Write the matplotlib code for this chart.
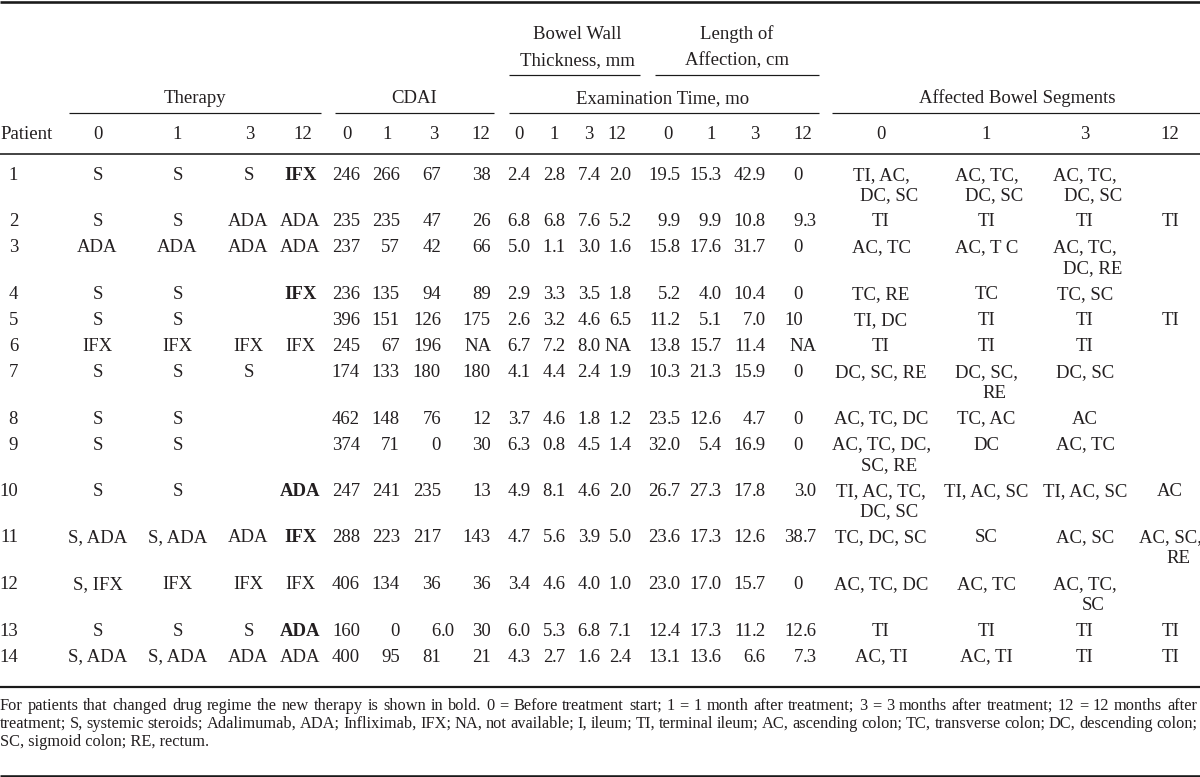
import matplotlib
matplotlib.use('Agg')
import matplotlib.pyplot as plt

# ---------------- data ----------------
patients = [str(i) for i in range(1, 15)]
therapy_0 = ["S", "S", "ADA", "S", "S", "IFX", "S", "S", "S", "S", "S, ADA", "S, IFX", "S", "S, ADA"]
therapy_1 = ["S", "S", "ADA", "S", "S", "IFX", "S", "S", "S", "S", "S, ADA", "IFX", "S", "S, ADA"]
therapy_3 = ["S", "ADA", "ADA", "", "", "IFX", "S", "", "", "", "ADA", "IFX", "S", "ADA"]
therapy_12 = ["IFX", "ADA", "ADA", "IFX", "", "IFX", "", "", "", "ADA", "IFX", "IFX", "ADA", "ADA"]
therapy_12_new = [True, False, False, True, False, False, False, False, False, True, True, False, True, False]

cdai_0 = ["246", "235", "237", "236", "396", "245", "174", "462", "374", "247", "288", "406", "160", "400"]
cdai_1 = ["266", "235", "57", "135", "151", "67", "133", "148", "71", "241", "223", "134", "0", "95"]
cdai_3 = ["67", "47", "42", "94", "126", "196", "180", "76", "0", "235", "217", "36", "6.0", "81"]
cdai_12 = ["38", "26", "66", "89", "175", "NA", "180", "12", "30", "13", "143", "36", "30", "21"]

bwt_0 = ["2.4", "6.8", "5.0", "2.9", "2.6", "6.7", "4.1", "3.7", "6.3", "4.9", "4.7", "3.4", "6.0", "4.3"]
bwt_1 = ["2.8", "6.8", "1.1", "3.3", "3.2", "7.2", "4.4", "4.6", "0.8", "8.1", "5.6", "4.6", "5.3", "2.7"]
bwt_3 = ["7.4", "7.6", "3.0", "3.5", "4.6", "8.0", "2.4", "1.8", "4.5", "4.6", "3.9", "4.0", "6.8", "1.6"]
bwt_12 = ["2.0", "5.2", "1.6", "1.8", "6.5", "NA", "1.9", "1.2", "1.4", "2.0", "5.0", "1.0", "7.1", "2.4"]

loa_0 = ["19.5", "9.9", "15.8", "5.2", "11.2", "13.8", "10.3", "23.5", "32.0", "26.7", "23.6", "23.0", "12.4", "13.1"]
loa_1 = ["15.3", "9.9", "17.6", "4.0", "5.1", "15.7", "21.3", "12.6", "5.4", "27.3", "17.3", "17.0", "17.3", "13.6"]
loa_3 = ["42.9", "10.8", "31.7", "10.4", "7.0", "11.4", "15.9", "4.7", "16.9", "17.8", "12.6", "15.7", "11.2", "6.6"]
loa_12 = ["0", "9.3", "0", "0", "10", "NA", "0", "0", "0", "3.0", "38.7", "0", "12.6", "7.3"]

seg_0 = ["TI, AC,\nDC, SC", "TI", "AC, TC", "TC, RE", "TI, DC", "TI", "DC, SC, RE", "AC, TC, DC",
         "AC, TC, DC,\nSC, RE", "TI, AC, TC,\nDC, SC", "TC, DC, SC", "AC, TC, DC", "TI", "AC, TI"]
seg_1 = ["AC, TC,\nDC, SC", "TI", "AC, T C", "TC", "TI", "TI", "DC, SC,\nRE", "TC, AC", "DC",
         "TI, AC, SC", "SC", "AC, TC", "TI", "AC, TI"]
seg_3 = ["AC, TC,\nDC, SC", "TI", "AC, TC,\nDC, RE", "TC, SC", "TI", "TI", "DC, SC", "AC", "AC, TC",
         "TI, AC, SC", "AC, SC", "AC, TC,\nSC", "TI", "TI"]
seg_12 = ["", "TI", "", "", "TI", "", "", "", "", "AC", "AC, SC,\nRE", "", "TI", "TI"]

time_labels = ["0", "1", "3", "12"]
group_titles = ["Therapy", "CDAI", "Examination Time, mo", "Affected Bowel Segments"]
sub_titles = [["Bowel Wall", "Thickness, mm"], ["Length of", "Affection, cm"]]
patient_title = "Patient"
footnote_lines = [
    "For patients that changed drug regime the new therapy is shown in bold. 0 = Before treatment start; "
    "1 = 1 month after treatment; 3 = 3 months after treatment; 12 = 12 months after",
    "treatment; S, systemic steroids; Adalimumab, ADA; Infliximab, IFX; NA, not available; I, ileum; "
    "TI, terminal ileum; AC, ascending colon; TC, transverse colon; DC, descending colon;",
    "SC, sigmoid colon; RE, rectum.",
]

# ---------------- layout / style ----------------
W, H = 1200, 777
FONT = 'Liberation Serif'
FS = 13.5
FS_NOTE = 11.8
INK = '#231f20'
BASE = 6          # baseline below visual centre of a line
NOTE_BASE = 5

fig = plt.figure(figsize=(12, 7.77), dpi=100)
ax = fig.add_axes([0, 0, 1, 1])
ax.set_xlim(0, W)
ax.set_ylim(H, 0)
ax.axis('off')
renderer = fig.canvas.get_renderer()


def txt(x, y, s, ha='center', bold=False, fs=FS, base=BASE):
    return ax.text(x, y + base, s, ha=ha, va='baseline', fontsize=fs, family=FONT,
                   color=INK, fontweight='bold' if bold else 'normal')


def rule(x0, x1, y, px):
    ax.plot([x0, x1], [y, y], color='#1a1a1a', lw=px * 0.72, solid_capstyle='butt')


# column geometry
ther_x = [97.5, 177.5, 248.5, 300.5]
cdai_anchor = [360, 400, 441, 491]
bwt_anchor = [517, 552, 587, 618]
loa_anchor = [667, 708, 752, 803]
seg_x = [881, 986.5, 1085, 1170]
CONT_SHIFT = 8
pat_right = 18
FRAC_W = 14

hdr_ther = [97.5, 177, 249.5, 303]
hdr_cdai = [347, 387, 433.5, 481]
hdr_bwt = [519, 554, 589, 617]
hdr_loa = [668, 711, 755, 803]

# ---------------- rules ----------------
rule(0, W, 2, 2.6)
rule(509, 640, 75, 1.2)
rule(655, 819, 75, 1.2)
rule(69, 321, 113, 1.2)
rule(335, 494, 113, 1.2)
rule(509, 819, 113, 1.2)
rule(832, W, 113, 1.2)
rule(0, W, 154, 1.6)
rule(0, W, 687, 2.2)
rule(0, W, 776, 2.6)

# ---------------- headers ----------------
txt(577, 33, sub_titles[0][0])
txt(577, 59, sub_titles[0][1])
txt(737, 33, sub_titles[1][0])
txt(737, 59, sub_titles[1][1])
txt(195, 97, group_titles[0])
txt(414, 97, group_titles[1])
txt(663, 97, group_titles[2])
txt(1017, 97, group_titles[3])
txt(0, 133, patient_title, ha='left')
for xs in (hdr_ther, hdr_cdai, hdr_bwt, hdr_loa, seg_x):
    for x, lab in zip(xs, time_labels):
        txt(x, 133, lab)


# ---------------- body ----------------
def dec(anchor, y, s, na_right):
    if s == "NA":
        txt(na_right, y, s, ha='right')
        return
    if '.' in s:
        ip, fp = s.split('.')
        txt(anchor, y, ip, ha='right')
        txt(anchor, y, '.' + fp, ha='left')
    else:
        txt(anchor, y, s, ha='right')


Y0 = 174
P1 = 26
LSP = 20.5
segs = [seg_0, seg_1, seg_3, seg_12]
ther = [therapy_0, therapy_1, therapy_3, therapy_12]
cdai = [cdai_0, cdai_1, cdai_3, cdai_12]
bwt = [bwt_0, bwt_1, bwt_3, bwt_12]
loa = [loa_0, loa_1, loa_3, loa_12]

y = Y0
for i in range(len(patients)):
    nlines = max(len(s[i].split('\n')) for s in segs)
    txt(pat_right, y, patients[i], ha='right')
    for j in range(4):
        bold = (j == 3 and therapy_12_new[i])
        if ther[j][i]:
            txt(ther_x[j], y, ther[j][i], bold=bold)
        dec(cdai_anchor[j], y, cdai[j][i], cdai_anchor[j] + 1)
        dec(bwt_anchor[j], y, bwt[j][i], bwt_anchor[j] + FRAC_W)
        dec(loa_anchor[j], y, loa[j][i], loa_anchor[j] + FRAC_W)
        for k, line in enumerate(segs[j][i].split('\n')):
            if line:
                txt(seg_x[j] + (CONT_SHIFT if k else 0), y + k * LSP, line)
    y += P1 + (nlines - 1) * LSP

# ---------------- footnote (justified) ----------------
NOTE_Y = [705, 723, 741]
NOTE_L, NOTE_R = 0, 1197
for li, line in enumerate(footnote_lines):
    yy = NOTE_Y[li]
    if li == len(footnote_lines) - 1:
        txt(NOTE_L, yy, line, ha='left', fs=FS_NOTE, base=NOTE_BASE)
        continue
    words = line.split(' ')
    objs = [txt(0, yy, w, ha='left', fs=FS_NOTE, base=NOTE_BASE) for w in words]
    widths = [o.get_window_extent(renderer).width for o in objs]
    gap = (NOTE_R - NOTE_L - sum(widths)) / (len(words) - 1)
    x = NOTE_L
    for o, w in zip(objs, widths):
        o.set_x(x)
        x += w + gap

fig.savefig('out.png', dpi=100)
